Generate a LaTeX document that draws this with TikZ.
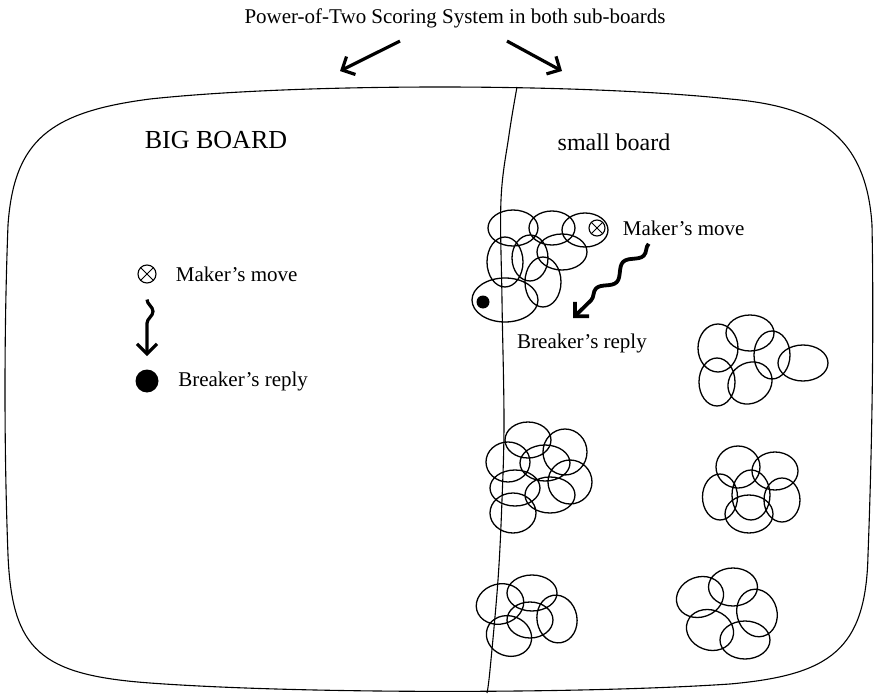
\documentclass[tikz,border=0pt]{standalone}
\usepackage{fontspec}
\setmainfont{Liberation Serif}
\usetikzlibrary{arrows.meta,positioning,decorations.pathmorphing}

\begin{document}
\begin{tikzpicture}[x=0.5pt, y=-0.5pt, every node/.style={font=\fontsize{10.5}{12}\selectfont, inner sep=0pt}, big/.style={font=\fontsize{13}{15}\selectfont}, edge/.style={line width=0.55pt}, blob/.style={line width=0.65pt}, mkmove/.style={draw, circle, line width=0.55pt, minimum size=#1, path picture={\draw[line width=0.5pt] (path picture bounding box.north west) -- (path picture bounding box.south east) (path picture bounding box.north east) -- (path picture bounding box.south west);}}, brdot/.style={circle, fill, minimum size=#1}, arr/.style={-{Straight Barb[length=5pt,width=10pt]}, line width=1.6pt}, wave/.style={arr, decorate, decoration={snake, amplitude=#1, segment length=19pt, post length=8pt}}]
\useasboundingbox (0,0) rectangle (875,696);
% board outline and the cut between the two sub-boards
\draw[edge] (8,555) .. controls (4,450) and (4,330) .. (8,225) .. controls (14,140) and (50,112) .. (150,99) .. controls (300,83) and (580,83) .. (730,99) .. controls (810,106) and (866,130) .. (872,225) .. controls (874,330) and (872,450) .. (868,555) .. controls (866,650) and (830,675) .. (730,684) .. controls (580,694) and (300,694) .. (150,683) .. controls (40,675) and (12,650) .. (8,555) -- cycle;
\draw[edge] plot[smooth, tension=0.6] coordinates {(517,87) (509,135) (501,200) (502,300) (504,420) (502,500) (498,580) (490,670) (487,693)};
% title
\node (title) at (455,18) {Power-of-Two Scoring System in both sub-boards};
\coordinate (ltip) at (340,71);
\coordinate (rtip) at (562,71);
\draw[arr] ([xshift=-27.5pt,yshift=-6.5pt]title.south) -- (ltip);
\draw[arr] ([xshift=26pt,yshift=-6.5pt]title.south) -- (rtip);
\node[big] (bigB) at (216,140) {BIG BOARD};
\node[font=\fontsize{12}{14}\selectfont] (smallB) at (614,142) {small board};
% legend on the big board
\node[mkmove=9pt] (mk1) at (147,274) {};
\node[right=9.5pt of mk1] (mm1) {Maker's move};
\node[brdot=11.5pt] (bd1) at (147,381) {};
\node[right=9.5pt of bd1] (br1) {Breaker's reply};
\draw[wave=3pt] ([yshift=-8pt]mk1.south) -- ([yshift=6.5pt]bd1.north);
% clusters on the small board
\draw[blob] (513,228) ellipse[x radius=25, y radius=18] (552,228) ellipse[x radius=23, y radius=17] (585,230) ellipse[x radius=23, y radius=17] (505,262) ellipse[x radius=18, y radius=25] (530,258) ellipse[x radius=18, y radius=23] (562,252) ellipse[x radius=25, y radius=18] (543,282) ellipse[x radius=18, y radius=25] (505,300) ellipse[x radius=33, y radius=22];
\node[mkmove=8pt] (mk2) at (597,228) {};
\node[brdot=6.5pt] (bd2) at (483,302) {};
\node[right=8.5pt of mk2] (mm2) {Maker's move};
\node (br2) at (582,343) {Breaker's reply};
\coordinate (wtip) at (573,318);
\draw[wave=2.5pt, line width=1.9pt] ([xshift=-17.5pt,yshift=-4pt]mm2.south) -- (wtip);
\draw[blob] (718,348) ellipse[x radius=20, y radius=24] (750,333) ellipse[x radius=24, y radius=18] (772,355) ellipse[x radius=18, y radius=24] (803,363) ellipse[x radius=25, y radius=18] (717,382) ellipse[x radius=18, y radius=24] (750,383) ellipse[x radius=23, y radius=20, rotate=35];
\draw[blob] (528,440) ellipse[x radius=23, y radius=18] (565,452) ellipse[x radius=22, y radius=23] (508,462) ellipse[x radius=22, y radius=20] (545,463) ellipse[x radius=25, y radius=18] (570,482) ellipse[x radius=22, y radius=22] (515,488) ellipse[x radius=25, y radius=18] (550,495) ellipse[x radius=25, y radius=18] (513,513) ellipse[x radius=23, y radius=20];
\draw[blob] (738,467) ellipse[x radius=22, y radius=21] (775,471) ellipse[x radius=23, y radius=19] (720,497) ellipse[x radius=17.5, y radius=23] (751,495) ellipse[x radius=19, y radius=25] (782,500) ellipse[x radius=18, y radius=22] (749,514) ellipse[x radius=24, y radius=19];
\draw[blob] (500,604) ellipse[x radius=24, y radius=20, rotate=15] (532,593) ellipse[x radius=25, y radius=18] (530,620) ellipse[x radius=23, y radius=18] (557,619) ellipse[x radius=20, y radius=24, rotate=10] (509,636) ellipse[x radius=23, y radius=20, rotate=-20];
\draw[blob] (700,597) ellipse[x radius=24, y radius=20, rotate=20] (733,587) ellipse[x radius=24.5, y radius=19] (757,613) ellipse[x radius=20, y radius=24, rotate=15] (710,630) ellipse[x radius=24, y radius=20, rotate=-20] (745,640) ellipse[x radius=25, y radius=19];
\end{tikzpicture}
\end{document}
